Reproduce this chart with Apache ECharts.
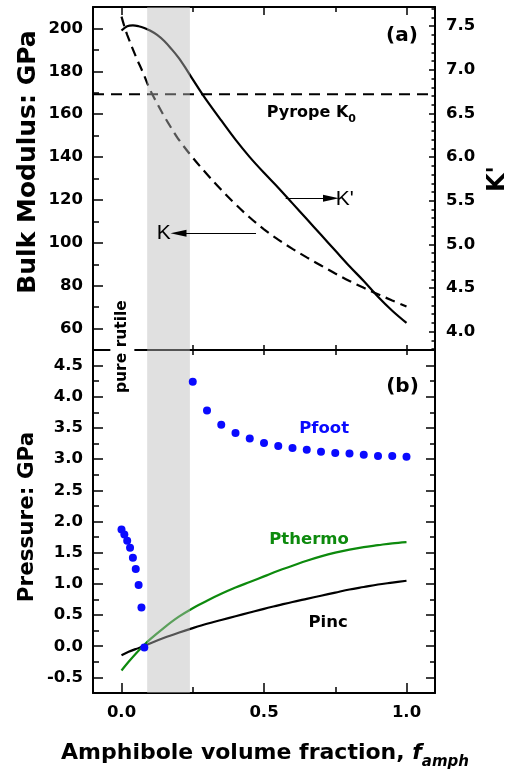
<!DOCTYPE html>
<html><head><meta charset="utf-8">
<script src="https://cdn.jsdelivr.net/npm/echarts@6/dist/echarts.min.js"></script>
<style>html,body{margin:0;padding:0;background:#fff}#c{width:511px;height:774px}</style>
</head><body><div id="c"></div>
<script>
// ---------------- data ----------------
const kX     = [0, 0.01, 0.02, 0.05, 0.075, 0.1, 0.125, 0.15, 0.175, 0.2, 0.25, 0.3, 0.35, 0.4, 0.45, 0.5, 0.55, 0.6, 0.65, 0.7, 0.75, 0.8, 0.85, 0.9, 0.95, 1.0];
const kBulk  = [205.5, 201, 197, 187, 179.5, 171.5, 165, 159, 153.5, 148.3, 139.7, 132, 124.7, 118, 111.8, 106.3, 101.5, 97.2, 93.2, 89.4, 85.7, 82.2, 79, 76, 73.1, 70.3];
const kpX    = [0, 0.02, 0.04, 0.06, 0.08, 0.1, 0.125, 0.15, 0.175, 0.2, 0.225, 0.25, 0.275, 0.3, 0.35, 0.4, 0.45, 0.5, 0.55, 0.6, 0.65, 0.7, 0.75, 0.8, 0.85, 0.9, 0.95, 1.0];
const kPrime = [7.45, 7.50, 7.51, 7.50, 7.48, 7.45, 7.40, 7.33, 7.24, 7.14, 7.02, 6.89, 6.765, 6.645, 6.42, 6.20, 6.00, 5.82, 5.65, 5.47, 5.29, 5.11, 4.93, 4.75, 4.58, 4.40, 4.24, 4.10];
const pyropeK0 = 169.3;
const pX      = [0, 0.025, 0.05, 0.075, 0.1, 0.15, 0.2, 0.25, 0.3, 0.35, 0.4, 0.45, 0.5, 0.55, 0.6, 0.65, 0.7, 0.75, 0.8, 0.85, 0.9, 0.95, 1.0];
const pInc    = [-0.145, -0.09, -0.045, -0.005, 0.045, 0.135, 0.215, 0.29, 0.36, 0.42, 0.48, 0.54, 0.60, 0.655, 0.71, 0.76, 0.81, 0.86, 0.91, 0.95, 0.99, 1.02, 1.05];
const pThermo = [-0.39, -0.25, -0.12, 0.0, 0.11, 0.30, 0.47, 0.61, 0.73, 0.84, 0.94, 1.03, 1.12, 1.21, 1.29, 1.37, 1.44, 1.50, 1.55, 1.59, 1.62, 1.65, 1.67];
const pfX     = [0, 0.01, 0.02, 0.03, 0.04, 0.05, 0.06, 0.07, 0.08, 0.25, 0.3, 0.35, 0.4, 0.45, 0.5, 0.55, 0.6, 0.65, 0.7, 0.75, 0.8, 0.85, 0.9, 0.95, 1.0];
const pFoot   = [1.87, 1.79, 1.69, 1.58, 1.42, 1.24, 0.98, 0.62, -0.02, 4.24, 3.78, 3.55, 3.42, 3.33, 3.26, 3.21, 3.18, 3.15, 3.12, 3.10, 3.09, 3.07, 3.05, 3.05, 3.04];
const band = [0.09, 0.24];
// tick labels
const xMajor  = [0, 0.5, 1.0];
const xMinor  = [0.25, 0.75];
const xMid    = [0, 0.25, 0.5, 0.75, 1.0];
const kMajor  = [60, 80, 100, 120, 140, 160, 180, 200];
const kMinor  = [70, 90, 110, 130, 150, 170, 190];
const kpMajor = [4.0, 4.5, 5.0, 5.5, 6.0, 6.5, 7.0, 7.5];
const pMajor  = [-0.5, 0, 0.5, 1.0, 1.5, 2.0, 2.5, 3.0, 3.5, 4.0, 4.5];
const pMinor  = [-0.25, 0.25, 0.75, 1.25, 1.75, 2.25, 2.75, 3.25, 3.75, 4.25];
const kpMinor = [];
for (let i = 38; i <= 77; i++) { if (i % 5 !== 0) kpMinor.push(i / 10); }

// ---------------- chart ----------------
const FONT = "'DejaVu Sans', sans-serif";
const chart = echarts.init(document.getElementById('c'), null, {renderer: 'canvas'});
const zip = (xs, ys) => xs.map((x, i) => [x, ys[i]]);

function ax(gridIndex, position, min, max, ticks, len, opt) {
  opt = opt || {};
  return {
    type: 'value', gridIndex, position, min, max,
    axisLine: {show: opt.line !== false, onZero: false, lineStyle: {color: '#000', width: 2}},
    axisTick: {show: true, inside: true, length: len, customValues: ticks, lineStyle: {color: '#000', width: 1.5}},
    axisLabel: opt.labels ? {
      show: true, customValues: opt.labels, margin: opt.margin || 10,
      formatter: opt.fmt || (v => v.toFixed(1)),
      color: '#000', fontFamily: FONT, fontWeight: 'bold', fontSize: 16.5
    } : {show: false},
    splitLine: {show: false}, splitArea: {show: false}
  };
}

const XR = [-0.1, 1.1];
const SM = 0.35;
const BAND_COLOR = 'rgba(186,186,186,0.45)';
const option = {
  animation: false,
  backgroundColor: '#fff',
  grid: [
    {left: 93, right: 76, top: 7, height: 343},
    {left: 93, right: 76, top: 350, height: 343}
  ],
  xAxis: [
    ax(0, 'bottom', XR[0], XR[1], xMid, 5),
    ax(0, 'top', XR[0], XR[1], xMajor, 8),
    ax(0, 'top', XR[0], XR[1], xMinor, 5, {line: false}),
    ax(1, 'top', XR[0], XR[1], xMid, 5),
    ax(1, 'bottom', XR[0], XR[1], xMajor, 10, {labels: xMajor, margin: 11}),
    ax(1, 'bottom', XR[0], XR[1], xMinor, 6, {line: false})
  ],
  yAxis: [
    ax(0, 'left', 50, 210, kMajor, 10, {labels: kMajor, fmt: v => String(Math.round(v)), margin: 10}),
    ax(0, 'left', 50, 210, kMinor, 6, {line: false}),
    ax(0, 'right', 3.79, 7.72, kpMajor, 6, {labels: kpMajor, margin: 11}),
    ax(0, 'right', 3.79, 7.72, kpMinor, 3.5, {line: false}),
    ax(1, 'left', -0.75, 4.75, pMajor, 10, {labels: pMajor, margin: 10}),
    ax(1, 'left', -0.75, 4.75, pMinor, 6, {line: false}),
    ax(1, 'right', -0.75, 4.75, pMajor, 9),
    ax(1, 'right', -0.75, 4.75, pMinor, 5, {line: false})
  ],
  series: [
    {
      name: 'K', type: 'line', xAxisIndex: 0, yAxisIndex: 0,
      data: zip(kX, kBulk), smooth: SM, symbol: 'none', z: 3,
      lineStyle: {color: '#000', width: 2.2, type: [10, 6]},
      markLine: {
        silent: true, animation: false, label: {show: false}, z: 25,
        data: [
          [{coord: [0.472, 104.5], symbol: 'none'}, {coord: [0.2, 104.5], symbol: 'triangle', symbolSize: [7, 16], symbolRotate: 90}]
        ],
        lineStyle: {color: '#000', width: 1, type: 'solid'}
      }
    },
    {
      name: 'pyrope', type: 'line', xAxisIndex: 0, yAxisIndex: 0,
      data: [[XR[0], pyropeK0], [XR[1], pyropeK0]], symbol: 'none',
      lineStyle: {color: '#000', width: 1.8, type: [11, 7]}
    },
    {
      name: "K'", type: 'line', xAxisIndex: 0, yAxisIndex: 2,
      data: zip(kpX, kPrime), smooth: SM, symbol: 'none', z: 3,
      lineStyle: {color: '#000', width: 2.2},
      markLine: {
        silent: true, animation: false, label: {show: false}, z: 25,
        data: [[{coord: [0.576, 5.53], symbol: 'none'}, {coord: [0.735, 5.53], symbol: 'triangle', symbolSize: [7, 16], symbolRotate: -90}]],
        lineStyle: {color: '#000', width: 1, type: 'solid'}
      }
    },
    {
      name: 'bandTop', type: 'line', xAxisIndex: 0, yAxisIndex: 0, z: 10,
      data: [[0.5, 100]], symbol: 'none', lineStyle: {opacity: 0},
      markArea: {silent: true, z: 20, itemStyle: {color: BAND_COLOR},
        data: [[{xAxis: band[0]}, {xAxis: band[1]}]]}
    },
    {
      name: 'Pinc', type: 'line', xAxisIndex: 4, yAxisIndex: 4,
      data: zip(pX, pInc), smooth: SM, symbol: 'none', z: 3,
      lineStyle: {color: '#000', width: 2.2}
    },
    {
      name: 'Pthermo', type: 'line', xAxisIndex: 4, yAxisIndex: 4,
      data: zip(pX, pThermo), smooth: SM, symbol: 'none', z: 3,
      lineStyle: {color: '#0d8a0d', width: 2.2}
    },
    {
      name: 'bandBottom', type: 'line', xAxisIndex: 4, yAxisIndex: 4, z: 10,
      data: [[0.5, 1]], symbol: 'none', lineStyle: {opacity: 0},
      markArea: {silent: true, z: 20, itemStyle: {color: BAND_COLOR},
        data: [[{xAxis: band[0]}, {xAxis: band[1]}]]}
    },
    {
      name: 'Pfoot', type: 'scatter', xAxisIndex: 4, yAxisIndex: 4, z: 30,
      data: zip(pfX, pFoot), symbol: 'circle', symbolSize: 8,
      itemStyle: {color: '#0a0aff', opacity: 1}
    }
  ]
};
chart.setOption(option);

// ---------------- annotations ----------------
const P = (xi, yi, pt) => chart.convertToPixel({xAxisIndex: xi, yAxisIndex: yi}, pt);
function txt(pos, text, o) {
  o = o || {};
  return {
    type: 'text', x: pos[0], y: pos[1], rotation: o.rot || 0, z: 100, silent: true,
    style: Object.assign({
      text, fill: o.fill || '#000', fontFamily: o.family || FONT,
      fontWeight: o.weight || 'bold', fontSize: o.size || 16,
      align: o.align || 'center', verticalAlign: 'middle'
    }, o.style || {})
  };
}
const graphics = [
  txt(P(0, 0, [0.984, 196.6]), '(a)', {size: 20}),
  txt(P(0, 0, [0.666, 160.8]), 'Pyrope K{sub|0}', {size: 16, style: {lineHeight: 24,
    rich: {sub: {fontSize: 11, fontWeight: 'bold', fontFamily: FONT, lineHeight: 11, verticalAlign: 'bottom', fill: '#000'}}}}),
  txt(P(0, 2, [0.752, 5.52]), "K'", {size: 21, weight: 'normal', family: "'Liberation Sans', Arial, sans-serif", align: 'left'}),
  txt(P(0, 0, [0.148, 104.3]), 'K', {size: 21, weight: 'normal', family: "'Liberation Sans', Arial, sans-serif"}),
  txt(P(4, 4, [0.986, 4.16]), '(b)', {size: 20}),
  txt(P(4, 4, [0.711, 3.48]), 'Pfoot', {size: 16.5, fill: '#0a0aff'}),
  txt(P(4, 4, [0.658, 1.71]), 'Pthermo', {size: 16.5, fill: '#0d8a0d'}),
  txt(P(4, 4, [0.725, 0.37]), 'Pinc', {size: 16.5}),
  txt(P(0, 0, [0.003, 51.6]), 'pure rutile', {size: 15.5, rot: Math.PI / 2,
    style: {backgroundColor: '#fff', padding: [4, 3, 4, 3]}}),
  // axis titles
  txt([28, 162], 'Bulk Modulus: GPa', {size: 25, rot: Math.PI / 2}),
  txt([27, 517], 'Pressure: GPa', {size: 21.5, rot: Math.PI / 2}),
  txt([498, 179], "K'", {size: 24, rot: Math.PI / 2}),
  txt([265, 753], 'Amphibole volume fraction, {f|f}{sub|amph}', {size: 22, style: {lineHeight: 34,
    rich: {
      f: {fontSize: 22, fontWeight: 'bold', fontStyle: 'italic', fontFamily: FONT, lineHeight: 34, fill: '#000'},
      sub: {fontSize: 15, fontWeight: 'bold', fontStyle: 'italic', fontFamily: FONT, lineHeight: 15, verticalAlign: 'bottom', fill: '#000'}
    }}})
];
chart.setOption({graphic: {elements: graphics}});
</script>
</body></html>
